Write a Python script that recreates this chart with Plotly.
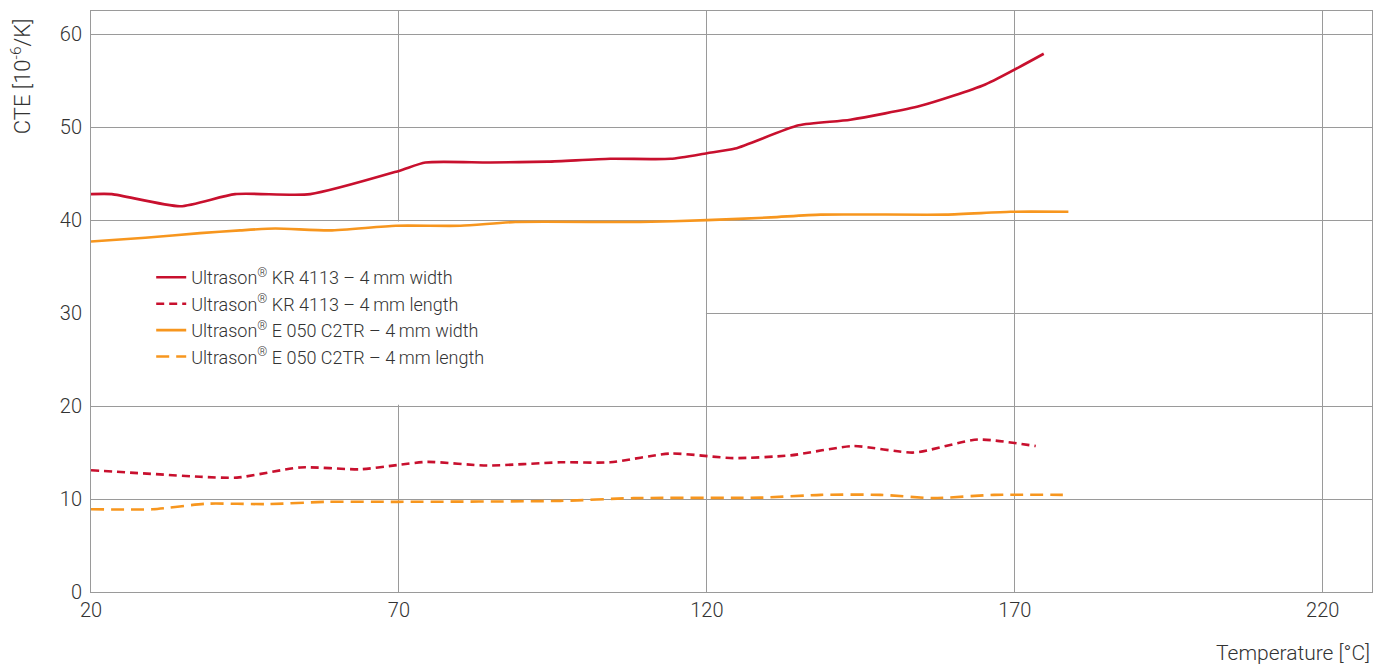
import plotly.graph_objects as go

# ---- data ----
kr_width_x = [20, 23.4, 34.5, 43.4, 55.6, 70, 74.3, 84.8, 94.2, 104.3, 114.1, 120, 124.6, 134.9, 143.3, 154.7, 165.2, 174.7]
kr_width_y = [42.8, 42.8, 41.5, 42.8, 42.8, 45.3, 46.2, 46.2, 46.3, 46.6, 46.6, 47.2, 47.7, 50.2, 50.8, 52.3, 54.6, 57.9]

kr_length_x = [20, 31.2, 37.7, 43.7, 54.0, 63.7, 69.7, 74.6, 84.3, 96.2, 104.3, 114.1, 124.3, 133.6, 143.8, 153.6, 164.0, 173.4]
kr_length_y = [13.1, 12.65, 12.4, 12.3, 13.4, 13.2, 13.65, 14.0, 13.6, 13.95, 13.95, 14.9, 14.4, 14.7, 15.7, 15.0, 16.4, 15.7]

e050_width_x = [20, 28.8, 37.7, 44.2, 49.9, 58.8, 69.5, 80.0, 88.9, 109.2, 120.0, 130.4, 138.5, 158.8, 169.3, 178.7]
e050_width_y = [37.7, 38.1, 38.6, 38.9, 39.1, 38.9, 39.4, 39.4, 39.8, 39.8, 40.0, 40.3, 40.6, 40.6, 40.9, 40.9]

e050_length_x = [20, 30.0, 38.8, 48.6, 58.3, 69.7, 96.2, 108.1, 128.8, 138.5, 148.2, 156.8, 166.6, 177.8]
e050_length_y = [8.9, 8.9, 9.5, 9.45, 9.7, 9.7, 9.8, 10.1, 10.15, 10.45, 10.45, 10.1, 10.45, 10.45]

names = [
    "Ultrason<sup>®</sup> KR 4113 – 4\u2009mm width",
    "Ultrason<sup>®</sup> KR 4113 – 4\u2009mm length",
    "Ultrason<sup>®</sup> E 050 C2TR – 4\u2009mm width",
    "Ultrason<sup>®</sup> E 050 C2TR – 4\u2009mm length",
]

x_ticks = [20, 70, 120, 170, 220]
y_ticks = [0, 10, 20, 30, 40, 50, 60]

RED = "#c8102e"
ORANGE = "#f7961e"
GRID = "#9a9a9a"
TEXT = "#333333"
FONT = "Roboto"

fig = go.Figure()
series = [
    (kr_width_x, kr_width_y, RED, "solid"),
    (kr_length_x, kr_length_y, RED, "8px,5px"),
    (e050_width_x, e050_width_y, ORANGE, "solid"),
    (e050_length_x, e050_length_y, ORANGE, "13px,7px"),
]
for (xs, ys, col, dash), nm in zip(series, names):
    fig.add_trace(go.Scatter(
        x=xs, y=ys, name=nm, mode="lines",
        line=dict(color=col, width=2.6, dash=dash, shape="spline", smoothing=0.6),
    ))

# white box behind the legend, hiding the grid there
fig.add_shape(type="rect", layer="between", xref="x", yref="y",
              x0=20, x1=119.85, y0=20.15, y1=39.85,
              fillcolor="white", line=dict(width=0))

# page body has an 8px margin: shrink the figure accordingly
fig.update_layout(
    width=1381, height=657,
    margin=dict(l=83, r=17, t=3, b=73),
    paper_bgcolor="white", plot_bgcolor="white",
    font=dict(family=FONT, color=TEXT, size=20, weight=300),
    showlegend=True,
    legend=dict(
        x=0.047, y=0.573, xanchor="left", yanchor="top",
        bgcolor="rgba(0,0,0,0)", borderwidth=0,
        font=dict(size=18, color=TEXT, family=FONT, weight=300),
        tracegroupgap=0,
    ),
    xaxis=dict(
        range=[20, 228], tickvals=x_ticks, ticktext=[str(v) for v in x_ticks],
        showgrid=True, gridcolor=GRID, gridwidth=1,
        showline=True, linecolor=GRID, linewidth=1, mirror=True,
        zeroline=False, ticks="", tickfont=dict(size=20, color=TEXT),
    ),
    yaxis=dict(
        range=[0, 62.5], tickvals=y_ticks, ticktext=[str(v) for v in y_ticks],
        showgrid=True, gridcolor=GRID, gridwidth=1,
        showline=True, linecolor=GRID, linewidth=1, mirror=True,
        zeroline=False, ticks="", tickfont=dict(size=20, color=TEXT),
        ticklabelstandoff=4,
    ),
    annotations=[
        dict(text="CTE [10<sup>-6</sup>/K]", xref="paper", yref="paper",
             x=-0.0546, y=0.888, xanchor="center", yanchor="middle",
             textangle=-90, showarrow=False,
             font=dict(size=22, color=TEXT, family=FONT, weight=300)),
        dict(text="Temperature [°C]", xref="paper", yref="paper",
             x=1.0, y=-0.105, xanchor="right", yanchor="middle",
             showarrow=False,
             font=dict(size=21, color=TEXT, family=FONT, weight=300)),
    ],
)

fig.write_html("out.html")
